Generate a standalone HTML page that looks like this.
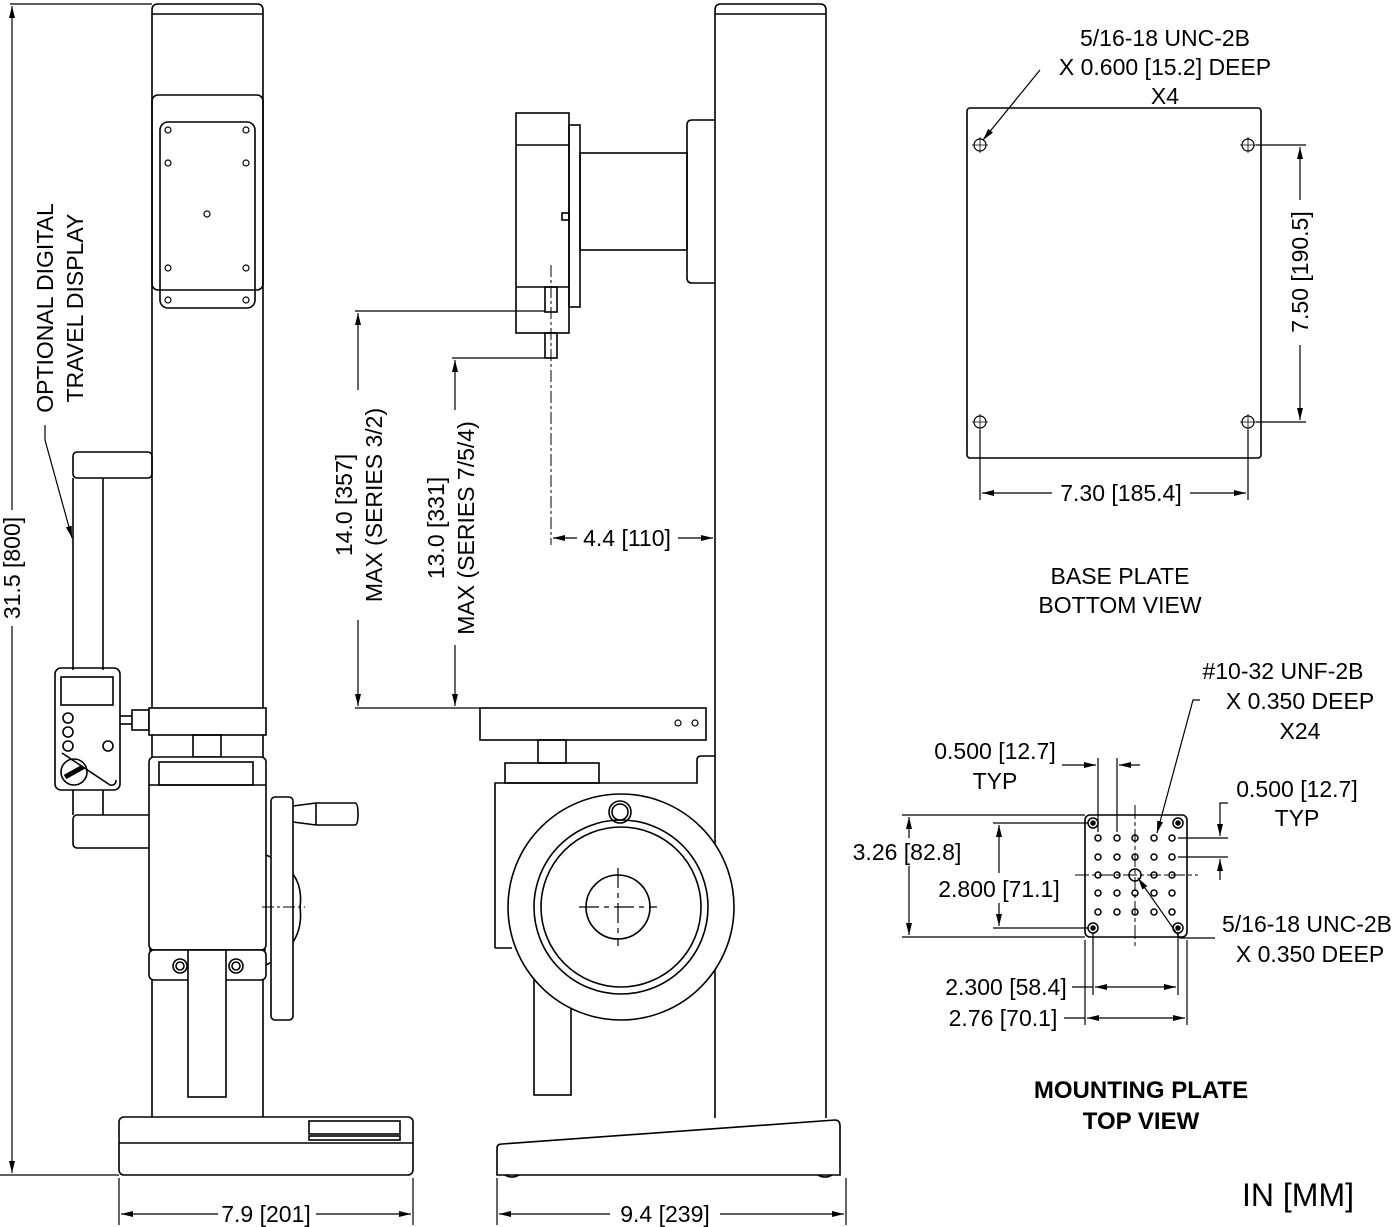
<!DOCTYPE html>
<html><head><meta charset="utf-8"><style>
html,body{margin:0;padding:0;background:#fff;}
svg{display:block;}
text{font-family:"Liberation Sans",Arial,sans-serif;fill:#000;}
</style></head><body>
<svg width="1400" height="1227" viewBox="0 0 1400 1227" xmlns="http://www.w3.org/2000/svg">
<defs>
<marker id="a" viewBox="0 0 12 6" refX="12" refY="3" markerWidth="12" markerHeight="6" orient="auto" markerUnits="userSpaceOnUse"><path d="M0,0 L12,3 L0,6 z" fill="#000"/></marker>
<marker id="b" viewBox="0 0 12 6" refX="0" refY="3" markerWidth="12" markerHeight="6" orient="auto" markerUnits="userSpaceOnUse"><path d="M12,0 L0,3 L12,6 z" fill="#000"/></marker>
</defs>
<g fill="none" stroke="#000" stroke-width="1.6">
<path d="M152 1117 V10 Q152 4 158 4 H257 Q263 4 263 10 V1117"/>
<line x1="152" y1="14" x2="263" y2="14"/>
<rect x="152" y="95" width="111" height="195" rx="6"/>
<rect x="160" y="122" width="95" height="186" rx="8"/>
<g stroke-width="1.2">
<circle cx="168" cy="130" r="3"/><circle cx="246" cy="130" r="3"/>
<circle cx="168" cy="163" r="3"/><circle cx="246" cy="163" r="3"/>
<circle cx="207" cy="214" r="3"/>
<circle cx="168" cy="268" r="3"/><circle cx="246" cy="268" r="3"/>
<circle cx="168" cy="300" r="3"/><circle cx="246" cy="300" r="3"/>
</g>
<rect x="73" y="452" width="79" height="26" rx="4"/>
<line x1="73" y1="478" x2="73" y2="670"/><line x1="103" y1="478" x2="103" y2="670"/>
<rect x="55" y="668" width="65" height="122" rx="6"/>
<rect x="61" y="677" width="52" height="28"/>
<circle cx="68" cy="718" r="5"/><circle cx="68" cy="732" r="5"/><circle cx="68" cy="746" r="5"/><circle cx="108" cy="746" r="5"/>
<path d="M62 753 L110 785 Q116 786 116 780"/>
<circle cx="74" cy="772" r="13"/>
<line x1="65" y1="777" x2="83" y2="767" stroke-width="5"/>
<line x1="73" y1="790" x2="73" y2="815"/><line x1="103" y1="790" x2="103" y2="815"/>
<rect x="73" y="815" width="79" height="33" rx="4"/>
<rect x="132" y="710" width="17" height="20"/>
<line x1="120" y1="716" x2="132" y2="716"/><line x1="120" y1="724" x2="132" y2="724"/>
<rect x="149" y="708" width="117" height="27" fill="#fff"/>
<rect x="193" y="735" width="28" height="22"/>
<rect x="149" y="757" width="117" height="193" rx="5" fill="#fff"/>
<rect x="159" y="762" width="94" height="23"/>
<line x1="149" y1="785" x2="266" y2="785"/>
<line x1="149" y1="950" x2="266" y2="950"/>
<rect x="149" y="950" width="117" height="30" rx="5" fill="#fff"/>
<circle cx="180" cy="966" r="7"/><circle cx="180" cy="966" r="4"/>
<circle cx="236" cy="966" r="7"/><circle cx="236" cy="966" r="4"/>
<rect x="188" y="950" width="38" height="147" fill="#fff"/>
<path d="M266 855 Q305 870 300 907 Q305 945 266 965" />
<rect x="271" y="797" width="22" height="223" rx="4" fill="#fff"/>
<path d="M293 806 L316 803 H355 Q358 803 358 814 Q358 825 355 825 H316 L293 822"/>
<line x1="316" y1="803" x2="316" y2="825"/>
<line x1="262" y1="907" x2="305" y2="907" stroke-width="1" stroke-dasharray="12 3 3 3"/>
<rect x="119" y="1117" width="294" height="58" rx="5" fill="#fff"/>
<line x1="119" y1="1143" x2="413" y2="1143"/>
<rect x="309" y="1121" width="91" height="13"/>
<rect x="309" y="1136" width="91" height="4"/>
<line x1="10" y1="4" x2="152" y2="4" stroke-width="1.2"/>
<line x1="0" y1="1175" x2="119" y2="1175" stroke-width="1.2"/>
<line x1="12" y1="510" x2="12" y2="6" marker-end="url(#a)" stroke-width="1.2"/>
<line x1="12" y1="626" x2="12" y2="1173" marker-end="url(#a)" stroke-width="1.2"/>
<line x1="119" y1="1178" x2="119" y2="1225" stroke-width="1.2"/>
<line x1="413" y1="1178" x2="413" y2="1225" stroke-width="1.2"/>
<line x1="218" y1="1214" x2="121" y2="1214" marker-end="url(#a)" stroke-width="1.2"/>
<line x1="316" y1="1214" x2="411" y2="1214" marker-end="url(#a)" stroke-width="1.2"/>
<path d="M45 425 V440 L72 538" marker-end="url(#a)" stroke-width="1.2"/>

<path d="M715 1118 V10 Q715 4 721 4 H820 Q826 4 826 10 V1118"/>
<line x1="715" y1="14" x2="826" y2="14"/>
<path d="M715 120 H692 Q687 120 687 125 V278 Q687 283 692 283 H715"/>
<rect x="580" y="153" width="107" height="97"/>
<rect x="569" y="125" width="11" height="182"/>
<rect x="516" y="113" width="53" height="220"/>
<line x1="516" y1="145" x2="569" y2="145"/><line x1="516" y1="287" x2="569" y2="287"/>
<rect x="562" y="213" width="7" height="7"/>
<rect x="545" y="287" width="12" height="25"/>
<rect x="545" y="333" width="12" height="25"/>
<line x1="551" y1="265" x2="551" y2="545" stroke-width="1" stroke-dasharray="12 3 3 3"/>
<rect x="480" y="708" width="226" height="32"/>
<circle cx="678" cy="723" r="3" stroke-width="1.2"/><circle cx="695" cy="723" r="3" stroke-width="1.2"/>
<rect x="538" y="740" width="28" height="23"/>
<rect x="505" y="763" width="94" height="20"/>
<path d="M495 948 V783 H697 V760 Q697 756 701 756 H715"/>
<line x1="495" y1="948" x2="512" y2="948"/>
<rect x="534" y="980" width="37" height="115"/>
<circle cx="621" cy="907" r="113" fill="#fff"/>
<circle cx="621" cy="907" r="87"/>
<circle cx="621" cy="907" r="80"/>
<ellipse cx="618" cy="907" rx="32" ry="32"/>
<line x1="579" y1="907" x2="657" y2="907" stroke-width="1.2" stroke-dasharray="20 5 5 5"/>
<line x1="618" y1="868" x2="618" y2="946" stroke-width="1.2" stroke-dasharray="20 5 5 5"/>
<circle cx="620" cy="812" r="11"/><circle cx="620" cy="812" r="8"/>
<path d="M497 1170 V1148 Q497 1144 502 1144 L835 1120 Q840 1120 840 1126 V1175 H497 Z"/>
<path d="M505 1175 Q512 1179 519 1175 M818 1175 Q825 1179 832 1175"/>
<g stroke-width="1.2">
<line x1="545" y1="311" x2="355" y2="311"/>
<line x1="545" y1="358" x2="452" y2="358"/>
<line x1="355" y1="708" x2="480" y2="708"/>
<line x1="358" y1="390" x2="358" y2="313" marker-end="url(#a)"/>
<line x1="358" y1="620" x2="358" y2="706" marker-end="url(#a)"/>
<line x1="455" y1="410" x2="455" y2="360" marker-end="url(#a)"/>
<line x1="455" y1="645" x2="455" y2="706" marker-end="url(#a)"/>
<line x1="577" y1="538" x2="553" y2="538" marker-end="url(#a)"/>
<line x1="678" y1="538" x2="713" y2="538" marker-end="url(#a)"/>
<line x1="497" y1="1178" x2="497" y2="1225"/>
<line x1="846" y1="1178" x2="846" y2="1225"/>
<line x1="610" y1="1214" x2="499" y2="1214" marker-end="url(#a)"/>
<line x1="720" y1="1214" x2="844" y2="1214" marker-end="url(#a)"/>
</g>

<rect x="967" y="108" width="294" height="350" rx="3"/>
<g stroke-width="1.2">
<circle cx="980" cy="145" r="6"/><circle cx="1248" cy="145" r="6"/>
<circle cx="980" cy="422" r="6"/><circle cx="1248" cy="422" r="6"/>
<path d="M972 145 H988 M980 137 V153 M1240 145 H1256 M1248 137 V153 M972 422 H988 M980 414 V430 M1240 422 H1256 M1248 414 V430" stroke-width="0.8"/>
<line x1="1040" y1="70" x2="983" y2="140" marker-end="url(#a)"/>
<line x1="1256" y1="145" x2="1306" y2="145"/>
<line x1="1256" y1="422" x2="1306" y2="422"/>
<line x1="1300" y1="200" x2="1300" y2="147" marker-end="url(#a)"/>
<line x1="1300" y1="345" x2="1300" y2="420" marker-end="url(#a)"/>
<line x1="980" y1="430" x2="980" y2="500"/>
<line x1="1248" y1="430" x2="1248" y2="500"/>
<line x1="1052" y1="493" x2="982" y2="493" marker-end="url(#a)"/>
<line x1="1190" y1="493" x2="1246" y2="493" marker-end="url(#a)"/>
</g>

<rect x="1085" y="815" width="102" height="122" rx="5"/>
<g stroke-width="1">
<line x1="1075" y1="875" x2="1198" y2="875" stroke-dasharray="14 3 4 3"/>
<line x1="1135" y1="805" x2="1135" y2="948" stroke-dasharray="14 3 4 3"/>
</g>
<g stroke-width="1.5">
<circle cx="1093" cy="823" r="5"/><circle cx="1178" cy="823" r="5"/>
<circle cx="1093" cy="928" r="5"/><circle cx="1178" cy="928" r="5"/>
<circle cx="1093" cy="823" r="2" fill="#000"/><circle cx="1178" cy="823" r="2" fill="#000"/>
<circle cx="1093" cy="928" r="2" fill="#000"/><circle cx="1178" cy="928" r="2" fill="#000"/>
<circle cx="1135" cy="875" r="6"/>
</g>
<g stroke-width="1.5">
<circle cx="1098" cy="838" r="3"/><circle cx="1117" cy="838" r="3"/><circle cx="1135" cy="838" r="3"/><circle cx="1154" cy="838" r="3"/><circle cx="1172" cy="838" r="3"/>
<circle cx="1098" cy="857" r="3"/><circle cx="1117" cy="857" r="3"/><circle cx="1135" cy="857" r="3"/><circle cx="1154" cy="857" r="3"/><circle cx="1172" cy="857" r="3"/>
<circle cx="1098" cy="875" r="3"/><circle cx="1117" cy="875" r="3"/><circle cx="1154" cy="875" r="3"/><circle cx="1172" cy="875" r="3"/>
<circle cx="1098" cy="893" r="3"/><circle cx="1117" cy="893" r="3"/><circle cx="1135" cy="893" r="3"/><circle cx="1154" cy="893" r="3"/><circle cx="1172" cy="893" r="3"/>
<circle cx="1098" cy="912" r="3"/><circle cx="1117" cy="912" r="3"/><circle cx="1135" cy="912" r="3"/><circle cx="1154" cy="912" r="3"/><circle cx="1172" cy="912" r="3"/>
</g>
<g stroke-width="1.2">
<line x1="902" y1="815" x2="1085" y2="815"/>
<line x1="902" y1="937" x2="1085" y2="937"/>
<line x1="909" y1="838" x2="909" y2="817" marker-end="url(#a)"/>
<line x1="909" y1="866" x2="909" y2="935" marker-end="url(#a)"/>
<line x1="993" y1="823" x2="1088" y2="823"/>
<line x1="993" y1="928" x2="1088" y2="928"/>
<line x1="999" y1="873" x2="999" y2="825" marker-end="url(#a)"/>
<line x1="999" y1="903" x2="999" y2="926" marker-end="url(#a)"/>
<line x1="1098" y1="758" x2="1098" y2="832"/>
<line x1="1117" y1="758" x2="1117" y2="832"/>
<line x1="1062" y1="765" x2="1096" y2="765" marker-end="url(#a)"/>
<line x1="1140" y1="765" x2="1119" y2="765" marker-end="url(#a)"/>
<line x1="1178" y1="838" x2="1228" y2="838"/>
<line x1="1178" y1="857" x2="1228" y2="857"/>
<path d="M1228 803 H1220 V836" marker-end="url(#a)"/>
<line x1="1220" y1="880" x2="1220" y2="859" marker-end="url(#a)"/>
<path d="M1200 700 H1193 L1157 833" marker-end="url(#a)"/>
<path d="M1215 938 H1180 L1138 878" marker-end="url(#a)"/>
<line x1="1093" y1="933" x2="1093" y2="995"/>
<line x1="1178" y1="933" x2="1178" y2="995"/>
<line x1="1085" y1="940" x2="1085" y2="1025"/>
<line x1="1187" y1="940" x2="1187" y2="1025"/>
<line x1="1072" y1="987" x2="1093" y2="987"/>
<line x1="1095" y1="987" x2="1176" y2="987" marker-start="url(#b)" marker-end="url(#a)"/>
<line x1="1064" y1="1018" x2="1085" y2="1018"/>
<line x1="1087" y1="1018" x2="1185" y2="1018" marker-start="url(#b)" marker-end="url(#a)"/>
</g>
</g>

<g font-size="23" text-anchor="middle">
<text transform="translate(20,568) rotate(-90)">31.5 [800]</text>
<text transform="translate(53,308) rotate(-90)">OPTIONAL DIGITAL</text>
<text transform="translate(83,308) rotate(-90)">TRAVEL DISPLAY</text>
<text x="266" y="1222">7.9 [201]</text>
<text transform="translate(352,505) rotate(-90)">14.0 [357]</text>
<text transform="translate(382,505) rotate(-90)">MAX (SERIES 3/2)</text>
<text transform="translate(444,528) rotate(-90)">13.0 [331]</text>
<text transform="translate(474,528) rotate(-90)">MAX (SERIES 7/5/4)</text>
<text x="627" y="546">4.4 [110]</text>
<text x="665" y="1222">9.4 [239]</text>
<text x="1165" y="46">5/16-18 UNC-2B</text>
<text x="1165" y="75">X 0.600 [15.2] DEEP</text>
<text x="1165" y="104">X4</text>
<text transform="translate(1308,272) rotate(-90)">7.50 [190.5]</text>
<text x="1121" y="501">7.30 [185.4]</text>
<text x="1120" y="584">BASE PLATE</text>
<text x="1120" y="613">BOTTOM VIEW</text>
<text x="1283" y="679">#10-32 UNF-2B</text>
<text x="1300" y="709">X 0.350 DEEP</text>
<text x="1300" y="739">X24</text>
<text x="995" y="759">0.500 [12.7]</text>
<text x="995" y="789">TYP</text>
<text x="1297" y="797">0.500 [12.7]</text>
<text x="1297" y="826">TYP</text>
<text x="907" y="860">3.26 [82.8]</text>
<text x="999" y="897">2.800 [71.1]</text>
<text x="1307" y="932">5/16-18 UNC-2B</text>
<text x="1310" y="962">X 0.350 DEEP</text>
<text x="1006" y="995">2.300 [58.4]</text>
<text x="1003" y="1026">2.76 [70.1]</text>
<text x="1141" y="1098" font-weight="bold" font-size="24">MOUNTING PLATE</text>
<text x="1141" y="1129" font-weight="bold" font-size="24">TOP VIEW</text>
<text x="1298" y="1206" font-size="32">IN [MM]</text>
</g>
</svg>
</body></html>
